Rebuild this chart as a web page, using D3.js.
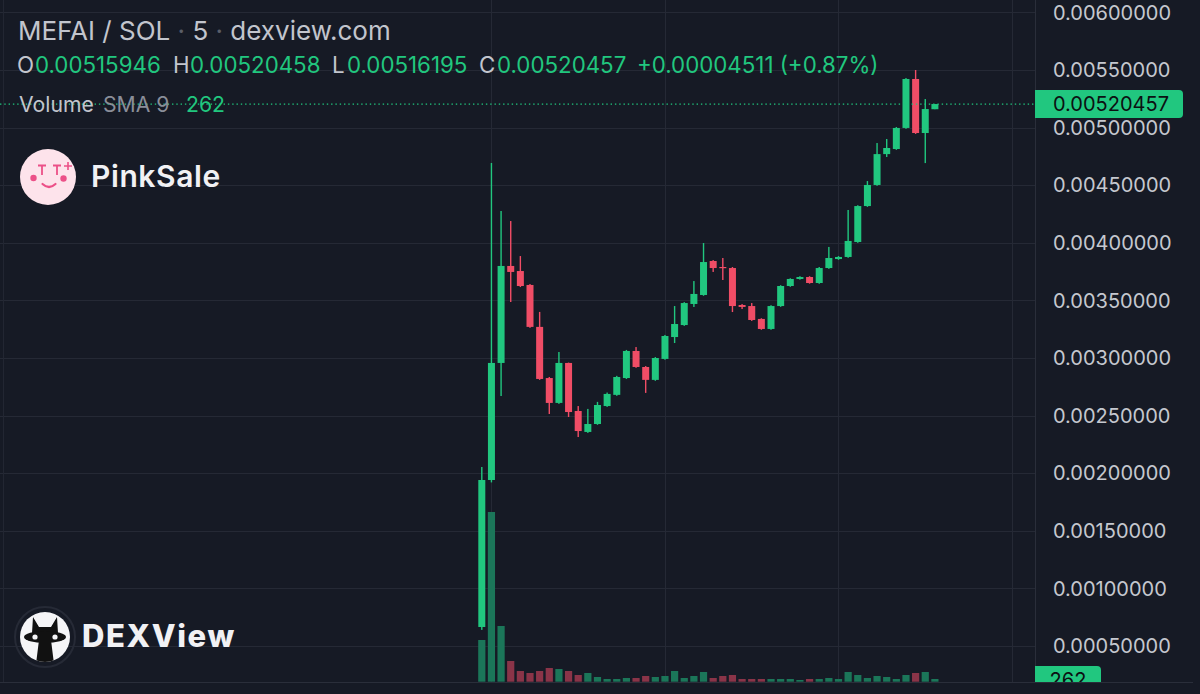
<!DOCTYPE html>
<html><head><meta charset="utf-8">
<script src="https://cdn.jsdelivr.net/npm/d3@7"></script>
<style>
html,body{margin:0;padding:0;background:#161a25;overflow:hidden}
svg{display:block}
text{font-family:Inter,"Noto Sans",sans-serif}
</style>
</head><body><svg id="c" width="1200" height="694"></svg>
<script>
// ---- data (5-minute candles, MEFAI / SOL) ----
const opens = [0.000665,0.001941,0.002957,0.003799,0.003755,0.003634,0.003270,0.002826,0.002610,0.002957,
  0.002540,0.002358,0.002427,0.002583,0.002680,0.002826,0.003061,0.002922,0.002810,0.002992,
  0.003182,0.003286,0.003469,0.003547,0.003842,0.003790,0.003781,0.003460,0.003451,0.003339,
  0.003252,0.003451,0.003625,0.003686,0.003703,0.003651,0.003781,0.003859,0.003877,0.004007,
  0.004319,0.004502,0.004770,0.004814,0.004997,0.005422,0.004953,0.00515946];
const highs = [0.002054,0.004693,0.004276,0.004189,0.003885,0.003642,0.003400,0.002835,0.003052,0.002960,
  0.002583,0.002558,0.002619,0.002700,0.002845,0.003070,0.003095,0.002930,0.003008,0.003200,
  0.003451,0.003485,0.003668,0.003998,0.003850,0.003868,0.003790,0.003468,0.003477,0.003345,
  0.003458,0.003632,0.003692,0.003710,0.003710,0.003790,0.003964,0.003885,0.004285,0.004326,
  0.004536,0.004866,0.004901,0.005005,0.005430,0.005500,0.005248,0.00520458];
const lows = [0.000640,0.001920,0.002670,0.003486,0.003616,0.003262,0.002810,0.002514,0.002602,0.002488,
  0.002314,0.002350,0.002420,0.002576,0.002672,0.002818,0.002915,0.002697,0.002802,0.002985,
  0.003130,0.003279,0.003443,0.003540,0.003747,0.003677,0.003399,0.003425,0.003322,0.003245,
  0.003245,0.003444,0.003618,0.003680,0.003645,0.003644,0.003774,0.003852,0.003870,0.004000,
  0.004312,0.004495,0.004745,0.004807,0.004990,0.004945,0.004692,0.00515946];
const closes = [0.001941,0.002957,0.003799,0.003747,0.003625,0.003270,0.002818,0.002610,0.002957,0.002531,
  0.002366,0.002427,0.002592,0.002688,0.002835,0.003061,0.002922,0.002810,0.003000,0.003191,
  0.003295,0.003477,0.003556,0.003833,0.003781,0.003781,0.003451,0.003443,0.003330,0.003252,
  0.003451,0.003625,0.003686,0.003703,0.003651,0.003781,0.003868,0.003877,0.004016,0.004319,
  0.004502,0.004770,0.004823,0.004997,0.005422,0.004953,0.005161,0.00520457];
const volumes = [1918,7806,2562,952,492,400,492,630,584,492,
  308,400,216,124,124,170,170,262,216,262,
  492,170,262,446,170,262,308,124,124,124,
  124,124,124,78,124,124,170,124,446,308,
  170,262,216,124,308,400,446,124];
const priceTicks = [0.0005,0.001,0.0015,0.002,0.0025,0.003,0.0035,0.004,0.0045,0.005,0.0055,0.006];
const timeGridBars = [1,19,37,55];
const lastPrice = 0.00520457;
const volSMA = 262;
const titleParts = ["MEFAI / SOL","5","dexview.com"];
const ohlcLabels = ["O","H","L","C"];
const ohlcValues = ["0.00515946","0.00520458","0.00516195","0.00520457"];
const changeText = "+0.00004511 (+0.87%)";

// ---- colours ----
const BG="#161a25", GRID="#252935", UP="#21c77f", DOWN="#f04d66",
      VUP="#1b7659", VDOWN="#8a3448", AXIS_TXT="#c5c8cf";

const svg = d3.select("#c");
svg.append("rect").attr("width",1200).attr("height",694).attr("fill",BG);

const x = d3.scaleLinear().domain([0,47]).range([481.8,934.9]);
const y = d3.scaleLinear().domain([0,0.006]).range([703.6,12.4]);
const yv = d3.scaleLinear().domain([0,d3.max(volumes)]).range([681.7,512]);

// grid
const g = svg.append("g");
g.selectAll("line.h").data(priceTicks).join("line")
  .attr("x1",0).attr("x2",1035).attr("y1",d=>Math.round(y(d))+0.5).attr("y2",d=>Math.round(y(d))+0.5)
  .attr("stroke",GRID).attr("stroke-width",1);
g.selectAll("line.v").data(timeGridBars).join("line")
  .attr("x1",d=>Math.round(x(d))+0.5).attr("x2",d=>Math.round(x(d))+0.5).attr("y1",0).attr("y2",682)
  .attr("stroke",GRID).attr("stroke-width",1);
g.append("line").attr("x1",3.5).attr("x2",3.5).attr("y1",0).attr("y2",682).attr("stroke","#222632");

// volume bars
const idx = d3.range(opens.length);
svg.append("g").selectAll("rect").data(idx).join("rect")
  .attr("x",i=>x(i)-3.6).attr("width",7.2)
  .attr("y",i=>yv(volumes[i])).attr("height",i=>yv(0)-yv(volumes[i]))
  .attr("fill",i=>closes[i]>=opens[i]?VUP:VDOWN);

// candles
const cg = svg.append("g");
cg.selectAll("rect.w").data(idx).join("rect")
  .attr("x",i=>x(i)-0.7).attr("width",1.4)
  .attr("y",i=>y(highs[i])).attr("height",i=>Math.max(1,y(lows[i])-y(highs[i])))
  .attr("fill",i=>closes[i]>=opens[i]?UP:DOWN);
cg.selectAll("rect.b").data(idx).join("rect")
  .attr("x",i=>x(i)-3.5).attr("width",7)
  .attr("y",i=>y(Math.max(opens[i],closes[i])))
  .attr("height",i=>Math.max(1.2,Math.abs(y(opens[i])-y(closes[i]))))
  .attr("fill",i=>closes[i]>=opens[i]?UP:DOWN);

// current price dotted line
svg.append("line").attr("x1",0).attr("x2",1035).attr("y1",y(lastPrice)).attr("y2",y(lastPrice))
  .attr("stroke",UP).attr("stroke-width",1.3).attr("stroke-dasharray","1.4 2.9");

// axes frame
svg.append("line").attr("x1",1035.5).attr("x2",1035.5).attr("y1",0).attr("y2",682).attr("stroke","#2a2e3a");
svg.append("line").attr("x1",0).attr("x2",1193).attr("y1",682.5).attr("y2",682.5).attr("stroke","#2a2e3a");

// price axis labels
svg.append("g").selectAll("text").data(priceTicks).join("text")
  .attr("x",1053).attr("y",d=>y(d)).attr("dy","0.36em")
  .attr("font-size",20).attr("fill",AXIS_TXT).text(d=>d.toFixed(8));

// last price label
const ly = y(lastPrice);
svg.append("path").attr("d",`M1035,${ly-14}H1179a4,4 0 0 1 4,4V${ly+10}a4,4 0 0 1 -4,4H1035Z`).attr("fill",UP);
svg.append("text").attr("x",1053).attr("y",ly).attr("dy","0.36em").attr("font-size",20)
  .attr("fill","#0c1012").text(lastPrice.toFixed(8));

// volume SMA label (clipped by time axis)
svg.append("clipPath").attr("id","vclip").append("rect").attr("x",1030).attr("y",600).attr("width",170).attr("height",82);
const vl = svg.append("g").attr("clip-path","url(#vclip)");
const vy = yv(volSMA);
vl.append("path").attr("d",`M1035,${vy-10}H1097a4,4 0 0 1 4,4V${vy+14}H1035Z`).attr("fill",UP);
vl.append("text").attr("x",1068).attr("y",vy+10.5).attr("text-anchor","middle").attr("font-size",20)
  .attr("fill","#0c1012").text(volSMA);

// header
const t = svg.append("text").attr("x",18).attr("y",40).attr("font-size",26).attr("fill","#c2c5cd");
t.append("tspan").text(titleParts[0]);
t.append("tspan").attr("fill","#5a5e69").text(" · ");
t.append("tspan").text(titleParts[1]);
t.append("tspan").attr("fill","#5a5e69").text(" · ");
t.append("tspan").text(titleParts[2]);

const lblX=[17,173,332,479], valX=[35,190,347,497];
const oh = svg.append("g").attr("font-size",22.3);
ohlcLabels.forEach((l,i)=>{
  oh.append("text").attr("x",lblX[i]).attr("y",73).attr("fill","#c2c5cd").text(l);
  oh.append("text").attr("x",valX[i]).attr("y",73).attr("fill",UP).text(ohlcValues[i]);
});
oh.append("text").attr("x",637).attr("y",73).attr("fill",UP).text(changeText);

const vt = svg.append("g").attr("font-size",21.2);
vt.append("text").attr("x",19).attr("y",112).attr("fill","#c2c5cd").text("Volume");
vt.append("text").attr("x",103).attr("y",112).attr("fill","#8a8e99").text("SMA 9");
vt.append("text").attr("x",186).attr("y",112).attr("fill",UP).text(volSMA);

// PinkSale watermark
const ps = svg.append("g");
ps.append("circle").attr("cx",48).attr("cy",177).attr("r",28).attr("fill","#fde3eb");
ps.append("circle").attr("cx",33.5).attr("cy",178).attr("r",3.2).attr("fill","#ec5088");
ps.append("circle").attr("cx",63.5).attr("cy",178.5).attr("r",3.2).attr("fill","#ec5088");
ps.append("path").attr("d","M38,165.5h8 M42,166v9 M53,165.5h8 M57,166v9")
  .attr("stroke","#ec5088").attr("stroke-width",1.8).attr("fill","none");
ps.append("path").attr("d","M42.5,184 Q49,190 55.5,184").attr("stroke","#ec5088").attr("stroke-width",2.2).attr("fill","none").attr("stroke-linecap","round");
ps.append("path").attr("d","M68,162v8 M64,166h8").attr("stroke","#ec5088").attr("stroke-width",1.6);
ps.append("text").attr("x",91).attr("y",187).attr("font-size",30).attr("font-weight",600)
  .attr("letter-spacing",0.6).attr("fill","#f1f1f4").text("PinkSale");

// DEXView watermark
const dx = svg.append("g");
dx.append("circle").attr("cx",45).attr("cy",637).attr("r",30).attr("fill","none").attr("stroke","#262a36").attr("stroke-width",2);
dx.append("circle").attr("cx",45).attr("cy",637).attr("r",25).attr("fill","#f5f5f7");
dx.append("clipPath").attr("id","dclip").append("circle").attr("cx",45).attr("cy",637).attr("r",25);
const cat = dx.append("g").attr("clip-path","url(#dclip)").attr("fill","#111");
cat.append("path").attr("d","M33,617 L39,627 H51 L57,617 L58,633 H32 Z");
cat.append("ellipse").attr("cx",45).attr("cy",637).attr("rx",21).attr("ry",6);
cat.append("path").attr("d","M39,640 H51 L54,664 H36 Z");
dx.append("circle").attr("cx",35).attr("cy",637).attr("r",2.6).attr("fill","#f5f5f7");
dx.append("circle").attr("cx",55).attr("cy",637).attr("r",2.6).attr("fill","#f5f5f7");
dx.append("text").attr("x",82).attr("y",647).attr("font-size",31).attr("font-weight",800)
  .attr("letter-spacing",1.6).attr("fill","#f1f1f4").text("DEXView");
</script>
</body></html>
